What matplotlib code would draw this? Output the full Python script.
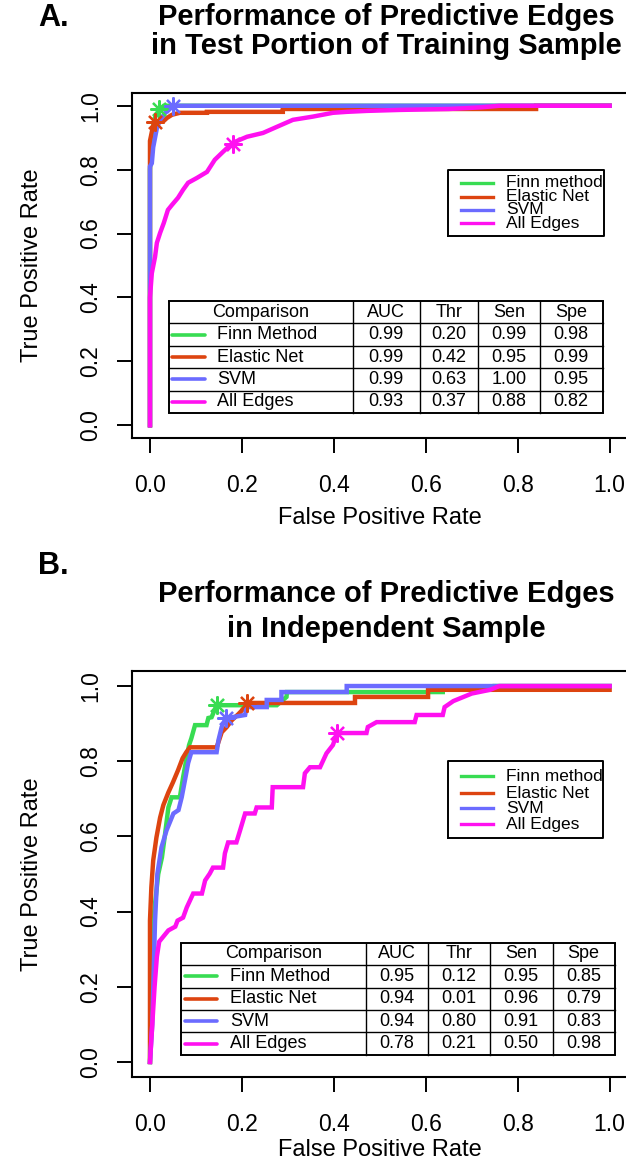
import matplotlib
matplotlib.use("Agg")
import matplotlib.pyplot as plt

plt.rcParams["font.family"] = ["Liberation Sans", "DejaVu Sans"]

W, H = 626, 1165

methods = ["Finn method", "Elastic Net", "SVM", "All Edges"]
table_names = ["Finn Method", "Elastic Net", "SVM", "All Edges"]
table_header = ["Comparison", "AUC", "Thr", "Sen", "Spe"]
colors = ["#38DC52", "#DD4410", "#6B6BFF", "#FF10F0"]

# panel A: test portion of training sample
fpr_a = [
    [0, 0, 0.003, 0.006, 0.01, 0.015, 0.022, 0.03, 1.0],
    [0, 0, 0.005, 0.01, 0.028, 0.037, 0.048, 0.065, 0.124, 0.124, 0.289,
     0.289, 0.84, 0.84, 1.0],
    [0, 0, 0.004, 0.007, 0.011, 0.015, 0.022, 0.033, 0.05, 1.0],
    [0, 0, 0.004, 0.011, 0.015, 0.022, 0.030, 0.039, 0.048, 0.061, 0.072,
     0.083, 0.102, 0.124, 0.141, 0.159, 0.180, 0.211, 0.246, 0.276, 0.311,
     0.354, 0.398, 0.428, 0.472, 0.543, 0.65, 0.72, 0.76, 1.0],
]
tpr_a = [
    [0, 0.80, 0.88, 0.93, 0.96, 0.975, 0.99, 1.0, 1.0],
    [0, 0.89, 0.925, 0.95, 0.95, 0.962, 0.972, 0.978, 0.978, 0.981, 0.981,
     0.99, 0.99, 1.0, 1.0],
    [0, 0.81, 0.82, 0.87, 0.90, 0.93, 0.956, 0.978, 1.0, 1.0],
    [0, 0.40, 0.476, 0.527, 0.571, 0.602, 0.633, 0.674, 0.690, 0.712, 0.737,
     0.759, 0.774, 0.793, 0.831, 0.856, 0.884, 0.903, 0.915, 0.934, 0.956,
     0.966, 0.978, 0.981, 0.984, 0.987, 0.99, 0.995, 1.0, 1.0],
]
star_a = [(0.02, 0.99), (0.01, 0.95), (0.05, 1.0), (0.18, 0.88)]
table_a = [
    ["0.99", "0.20", "0.99", "0.98"],
    ["0.99", "0.42", "0.95", "0.99"],
    ["0.99", "0.63", "1.00", "0.95"],
    ["0.93", "0.37", "0.88", "0.82"],
]

# panel B: independent sample
fpr_b = [
    [0, 0.003, 0.007, 0.018, 0.026, 0.033, 0.04, 0.047, 0.065, 0.072, 0.08,
     0.085, 0.09, 0.098, 0.123, 0.127, 0.134, 0.145, 0.276, 0.297, 0.298,
     0.637, 0.637, 0.75, 0.75, 1.0],
    [0, 0, 0.003, 0.007, 0.014, 0.022, 0.029, 0.04, 0.05, 0.061, 0.071,
     0.079, 0.087, 0.145, 0.149, 0.156, 0.167, 0.178, 0.192, 0.207, 0.21,
     0.446, 0.446, 0.605, 0.605, 1.0],
    [0, 0.005, 0.011, 0.016, 0.025, 0.036, 0.051, 0.062, 0.069, 0.076, 0.083,
     0.09, 0.145, 0.149, 0.156, 0.165, 0.178, 0.207, 0.21, 0.254, 0.254,
     0.286, 0.286, 0.428, 0.428, 1.0],
    [0, 0.005, 0.01, 0.015, 0.02, 0.04, 0.055, 0.06, 0.072, 0.08, 0.094,
     0.113, 0.12, 0.13, 0.137, 0.159, 0.163, 0.17, 0.188, 0.196, 0.207,
     0.228, 0.232, 0.265, 0.267, 0.333, 0.337, 0.348, 0.37, 0.384, 0.398,
     0.407, 0.471, 0.474, 0.493, 0.576, 0.58, 0.637, 0.641, 0.66, 0.70,
     0.74, 0.76, 1.0],
]
tpr_b = [
    [0, 0.2, 0.376, 0.50, 0.544, 0.608, 0.677, 0.704, 0.704, 0.757, 0.811,
     0.843, 0.861, 0.896, 0.896, 0.915, 0.917, 0.949, 0.949, 0.971, 0.984,
     0.984, 0.99, 0.99, 1.0, 1.0],
    [0, 0.376, 0.465, 0.536, 0.597, 0.65, 0.683, 0.717, 0.744, 0.776, 0.808,
     0.824, 0.837, 0.837, 0.851, 0.877, 0.891, 0.909, 0.925, 0.944, 0.955,
     0.955, 0.971, 0.971, 0.99, 0.99],
    [0, 0.1, 0.376, 0.50, 0.571, 0.616, 0.661, 0.67, 0.704, 0.749, 0.795,
     0.824, 0.824, 0.856, 0.891, 0.915, 0.917, 0.923, 0.944, 0.944, 0.963,
     0.963, 0.984, 0.984, 1.0, 1.0],
    [0, 0.1, 0.2, 0.28, 0.32, 0.35, 0.36, 0.376, 0.384, 0.411, 0.448,
     0.448, 0.483, 0.501, 0.517, 0.517, 0.555, 0.584, 0.584, 0.616, 0.661,
     0.661, 0.677, 0.677, 0.731, 0.731, 0.768, 0.784, 0.784, 0.821, 0.843,
     0.875, 0.875, 0.891, 0.904, 0.904, 0.923, 0.923, 0.944, 0.96, 0.98,
     0.99, 1.0, 1.0],
]
star_b = [(0.145, 0.95), (0.21, 0.955), (0.165, 0.915), (0.407, 0.875)]
table_b = [
    ["0.95", "0.12", "0.95", "0.85"],
    ["0.94", "0.01", "0.96", "0.79"],
    ["0.94", "0.80", "0.91", "0.83"],
    ["0.78", "0.21", "0.50", "0.98"],
]


def draw_table(ax, cols, top, row_h, rows, seg, name_x):
    bottom = top - 5 * row_h
    kw = dict(color="black", lw=1.4, solid_capstyle="butt", zorder=5)
    for c in (cols[0], cols[-1]):
        ax.plot([c, c], [bottom, top], **kw)
    for c in cols[1:-1]:
        ax.plot([c, c], [bottom, top], color="black", lw=1.0, zorder=5)
    for r in range(6):
        y = top - r * row_h
        lw = 1.4 if r in (0, 5) else 1.0
        ax.plot([cols[0], cols[-1]], [y, y], color="black", lw=lw, zorder=5)
    ax.fill_between([cols[0], cols[-1]], bottom, top, color="white", zorder=4)
    centers = [(cols[i] + cols[i + 1]) / 2 for i in range(5)]
    yc = top - 0.5 * row_h
    for i, head in enumerate(table_header):
        ax.text(centers[i], yc, head, ha="center", va="center", fontsize=13,
                zorder=6)
    for r, vals in enumerate(rows):
        yc = top - (r + 1.5) * row_h
        ax.plot(seg, [yc, yc], color=colors[r], lw=2.6, zorder=6,
                solid_capstyle="round")
        ax.text(name_x, yc, table_names[r], ha="left", va="center",
                fontsize=13, zorder=6)
        for i, v in enumerate(vals):
            ax.text(centers[i + 1], yc, v, ha="center", va="center",
                    fontsize=13, zorder=6)


def draw_legend(ax, x0, x1, y_top, y_bot, rows_y):
    ax.plot([x0, x1, x1, x0, x0], [y_bot, y_bot, y_top, y_top, y_bot],
            color="black", lw=1.4, zorder=5)
    for r, y in enumerate(rows_y):
        ax.plot([0.676, 0.746], [y, y], color=colors[r], lw=2.4, zorder=6)
        ax.text(0.774, y, methods[r], ha="left", va="center", fontsize=12.5,
                zorder=6)


def draw_panel(ax, fprs, tprs, stars):
    for k in range(4):
        ax.plot(fprs[k], tprs[k], color=colors[k], lw=3.2, zorder=2 + k * 0.1,
                solid_joinstyle="miter")
        ax.plot(*stars[k], marker=(8, 2, 0), ms=13, mew=1.6, color=colors[k],
                zorder=2.5 + k * 0.1)
    ax.set_xlim(-0.04, 1.04)
    ax.set_ylim(-0.04, 1.04)
    ticks = [0.0, 0.2, 0.4, 0.6, 0.8, 1.0]
    ax.set_xticks(ticks)
    ax.set_yticks(ticks)
    ax.set_xticklabels([f"{t:.1f}" for t in ticks])
    ax.set_yticklabels([f"{t:.1f}" for t in ticks], rotation=90, va="center")
    ax.tick_params(direction="out", length=11, width=1.4, labelsize=16.5)
    ax.tick_params(axis="x", pad=15)
    ax.tick_params(axis="y", pad=10)
    for s in ax.spines.values():
        s.set_linewidth(1.5)


fig = plt.figure(figsize=(W / 100, H / 100), dpi=100)

ax_a = fig.add_axes([131.6 / W, 1 - 438 / H, 496.4 / W, 345 / H])
draw_panel(ax_a, fpr_a, tpr_a, star_a)
draw_table(ax_a, [0.041, 0.441, 0.587, 0.713, 0.848, 0.985], 0.389, 0.0702,
           table_a, [0.048, 0.120], 0.146)
draw_legend(ax_a, 0.648, 0.987, 0.799, 0.592, [0.759, 0.715, 0.674, 0.633])

ax_b = fig.add_axes([131.6 / W, 1 - 1077 / H, 496.4 / W, 406 / H])
draw_panel(ax_b, fpr_b, tpr_b, star_b)
draw_table(ax_b, [0.067, 0.470, 0.604, 0.739, 0.876, 1.011], 0.317, 0.0596,
           table_b, [0.076, 0.146], 0.174)
draw_legend(ax_b, 0.648, 0.985, 0.80, 0.595, [0.760, 0.715, 0.675, 0.632])

# titles, panel letters and axis labels
title_kw = dict(ha="center", va="center", fontsize=21, fontweight="bold")
fig.text(386 / W, 1 - 17 / H, "Performance of Predictive Edges", **title_kw)
fig.text(386 / W, 1 - 46 / H, "in Test Portion of Training Sample", **title_kw)
fig.text(386 / W, 1 - 594 / H, "Performance of Predictive Edges", **title_kw)
fig.text(386 / W, 1 - 629 / H, "in Independent Sample", **title_kw)
fig.text(38 / W, 1 - 18 / H, "A.", ha="left", va="center", fontsize=22,
         fontweight="bold")
fig.text(38 / W, 1 - 566 / H, "B.", ha="left", va="center", fontsize=22,
         fontweight="bold")

lab_kw = dict(ha="center", va="center", fontsize=17)
fig.text(380 / W, 1 - 518 / H, "False Positive Rate", **lab_kw)
fig.text(380 / W, 1 - 1150 / H, "False Positive Rate", **lab_kw)
fig.text(32 / W, 1 - 265 / H, "True Positive Rate", rotation=90, **lab_kw)
fig.text(32 / W, 1 - 874 / H, "True Positive Rate", rotation=90, **lab_kw)

fig.savefig("out.png", dpi=100)
